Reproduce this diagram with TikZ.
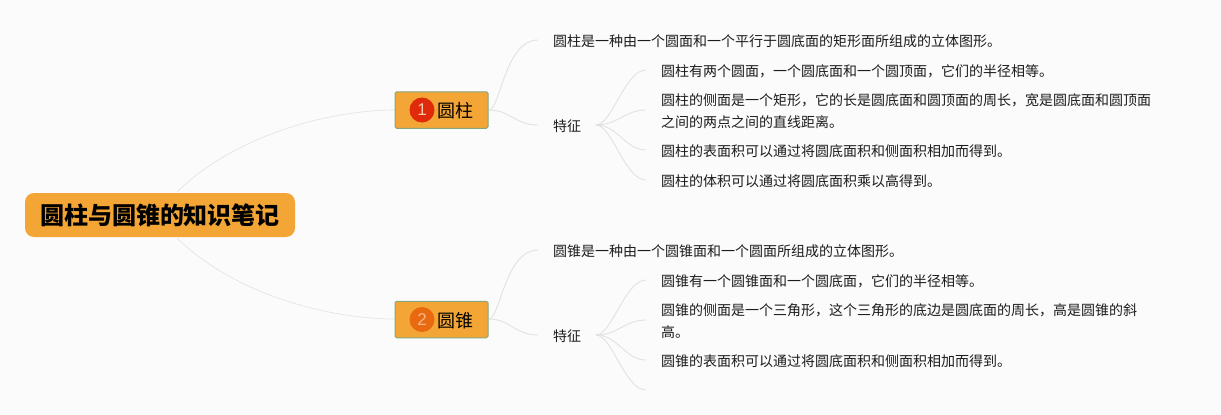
\documentclass[tikz,border=0pt]{standalone}
\usepackage{fontspec}
\setmainfont{Noto Sans CJK SC}
\setsansfont{Liberation Sans}
\definecolor{bgc}{HTML}{FBFBFB}
\definecolor{fillo}{HTML}{F3A536}
\definecolor{edgeg}{HTML}{E2E2E2}
\definecolor{bordg}{HTML}{86A67E}
\definecolor{txt}{HTML}{1C1C1C}
\definecolor{badgeone}{HTML}{DF2A0C}
\definecolor{badgetwo}{HTML}{E8690F}
\definecolor{digitone}{HTML}{F6C9A8}
\definecolor{digittwo}{HTML}{F5B886}
\tikzset{
  rootbox/.style={fill=fillo,rounded corners=9pt,minimum width=270pt,minimum height=44pt,inner sep=0pt,font=\fontsize{24}{28}\selectfont\bfseries,text=black},
  topicbox/.style={fill=fillo,draw=bordg,line width=1pt,rounded corners=1.5pt,minimum width=93pt,minimum height=36.5pt,inner sep=0pt},
  topiclabel/.style={inner sep=0pt,font=\fontsize{18}{22}\selectfont,text=black},
  badge/.style={circle,minimum size=25pt,inner sep=0pt,font=\sffamily\fontsize{17}{19}\selectfont},
  leaf/.style={anchor=west,inner sep=0pt,align=left,font=\fontsize{14}{21.5}\selectfont,text=txt},
  link/.style={draw=edgeg,line width=0.9pt},
  toplink/.style={draw=edgeg,line width=0.6pt}
}
\begin{document}
\begin{tikzpicture}[x=1pt,y=-1pt]
\useasboundingbox[fill=bgc] (0,0) rectangle (1221,415);
% free ends
\foreach \n/\x/\y in {a/538/40,b/538/125,c/646/70,d/646/110,e/646/150,f/646/180,g/538/250,h/538/335,i/646/280,j/646/320,k/646/360,l/646/390,rt/177/192,rb/177/238}{
  \coordinate (\n) at (\x,\y);
}
\coordinate (t1w) at (395,110);
\coordinate (t2w) at (395,319);
\coordinate (t1e) at (489,110);
\coordinate (t2e) at (489,319);
\coordinate (s1e) at (596,125);
\coordinate (s2e) at (596,335);
\draw[toplink] (rt) .. controls (235,135) and (330,110) .. (t1w);
\draw[toplink] (rb) .. controls (235,295) and (330,319) .. (t2w);
\draw[link] (t1e) .. controls (500,110) and (505,40) .. (a);
\draw[link] (t1e) .. controls (510,110) and (515,125) .. (b);
\draw[link] (t2e) .. controls (500,319) and (505,250) .. (g);
\draw[link] (t2e) .. controls (510,319) and (515,335) .. (h);
\draw[link] (s1e) .. controls (612,125) and (625,70) .. (c);
\draw[link] (s1e) .. controls (618,125) and (625,110) .. (d);
\draw[link] (s1e) .. controls (618,125) and (625,150) .. (e);
\draw[link] (s1e) .. controls (612,125) and (625,180) .. (f);
\draw[link] (s2e) .. controls (612,335) and (625,280) .. (i);
\draw[link] (s2e) .. controls (618,335) and (625,320) .. (j);
\draw[link] (s2e) .. controls (618,335) and (625,360) .. (k);
\draw[link] (s2e) .. controls (612,335) and (625,390) .. (l);
% nodes
\node[rootbox] (root) at (160,215) {\raisebox{-1pt}{圆柱与圆锥的知识笔记}};
\node[topicbox] (t1) at (441.5,110) {};
\node[topicbox] (t2) at (441.5,319.5) {};
\node[badge,fill=badgeone,text=digitone] (b1) at (422,110) {1};
\node[badge,fill=badgetwo,text=digittwo] (b2) at (422,319.5) {2};
\node[topiclabel] (l1) at (455,111) {圆柱};
\node[topiclabel] (l2) at (455,321) {圆锥};
\node[leaf] (n1) at (553,41) {圆柱是一种由一个圆面和一个平行于圆底面的矩形面所组成的立体图形。};
\node[leaf] (s1) at (553,126) {特征};
\node[leaf] (n2) at (661,71) {圆柱有两个圆面，一个圆底面和一个圆顶面，它们的半径相等。};
\node[leaf] (n3) at (661,111) {圆柱的侧面是一个矩形，它的长是圆底面和圆顶面的周长，宽是圆底面和圆顶面\\之间的两点之间的直线距离。};
\node[leaf] (n4) at (661,151) {圆柱的表面积可以通过将圆底面积和侧面积相加而得到。};
\node[leaf] (n5) at (661,181) {圆柱的体积可以通过将圆底面积乘以高得到。};
\node[leaf] (n6) at (553,251) {圆锥是一种由一个圆锥面和一个圆面所组成的立体图形。};
\node[leaf] (s2) at (553,336) {特征};
\node[leaf] (n7) at (661,281) {圆锥有一个圆锥面和一个圆底面，它们的半径相等。};
\node[leaf] (n8) at (661,321) {圆锥的侧面是一个三角形，这个三角形的底边是圆底面的周长，高是圆锥的斜\\高。};
\node[leaf] (n9) at (661,361) {圆锥的表面积可以通过将圆底面积和侧面积相加而得到。};
\end{tikzpicture}
\end{document}
